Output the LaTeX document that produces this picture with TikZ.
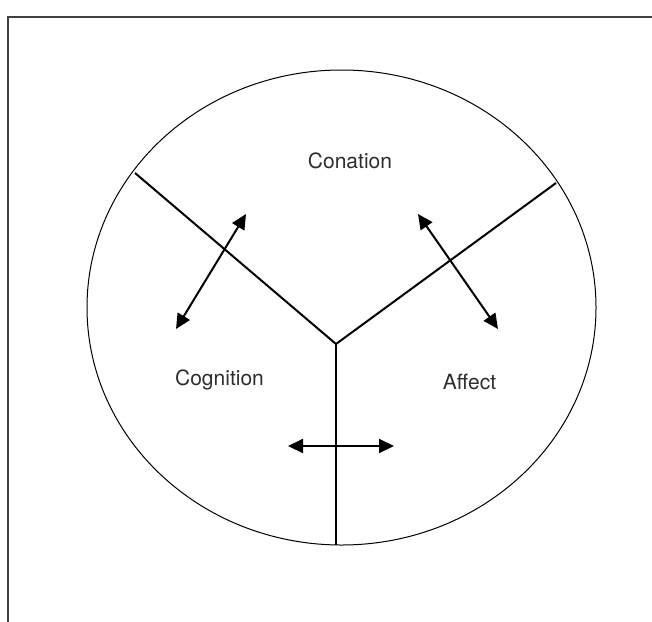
\documentclass[tikz,border=0pt]{standalone}
\usepackage{fontspec}
\setmainfont{TeX Gyre Heros}
\usetikzlibrary{arrows.meta}
\begin{document}
\begin{tikzpicture}[x=1pt,y=-1pt,
  frame/.style={line width=1.3pt, draw=black!75},
  rim/.style={line width=1pt},
  divider/.style={line width=2pt},
  rel/.style={line width=2pt,{Triangle[length=15pt,width=14pt]}-{Triangle[length=15pt,width=14pt]}},
  lbl/.style={font=\fontsize{21}{24}\selectfont, text=black!82, inner sep=0pt}]
\clip (0,0) rectangle (652,621);
\fill[white] (0,0) rectangle (652,621);
\draw[frame] (8,17) rectangle (700,700);
\draw[rim] (341.5,307.5) ellipse [x radius=254.5pt, y radius=237.5pt];
% divider points
\coordinate (J) at (336,344);
\coordinate (L) at (135,173);
\coordinate (R) at (556,183);
\coordinate (B) at (336,545);
\draw[divider] (L) -- (J) -- (R);
\draw[divider] (J) -- (B);
% arrow end points
\coordinate (a1) at (246,214);
\coordinate (a2) at (176,329);
\coordinate (b1) at (418,214);
\coordinate (b2) at (498,329);
\coordinate (c1) at (288,446);
\coordinate (c2) at (394,446);
\draw[rel] (a1) -- (a2);
\draw[rel] (b1) -- (b2);
\draw[rel] (c1) -- (c2);
% labels
\node[lbl] (conation) at (350,161) {Conation};
\node[lbl] (cognition) at (219.5,380) {Cognition};
\node[lbl] (affect) at (469.5,382) {Affect};
\end{tikzpicture}
\end{document}
